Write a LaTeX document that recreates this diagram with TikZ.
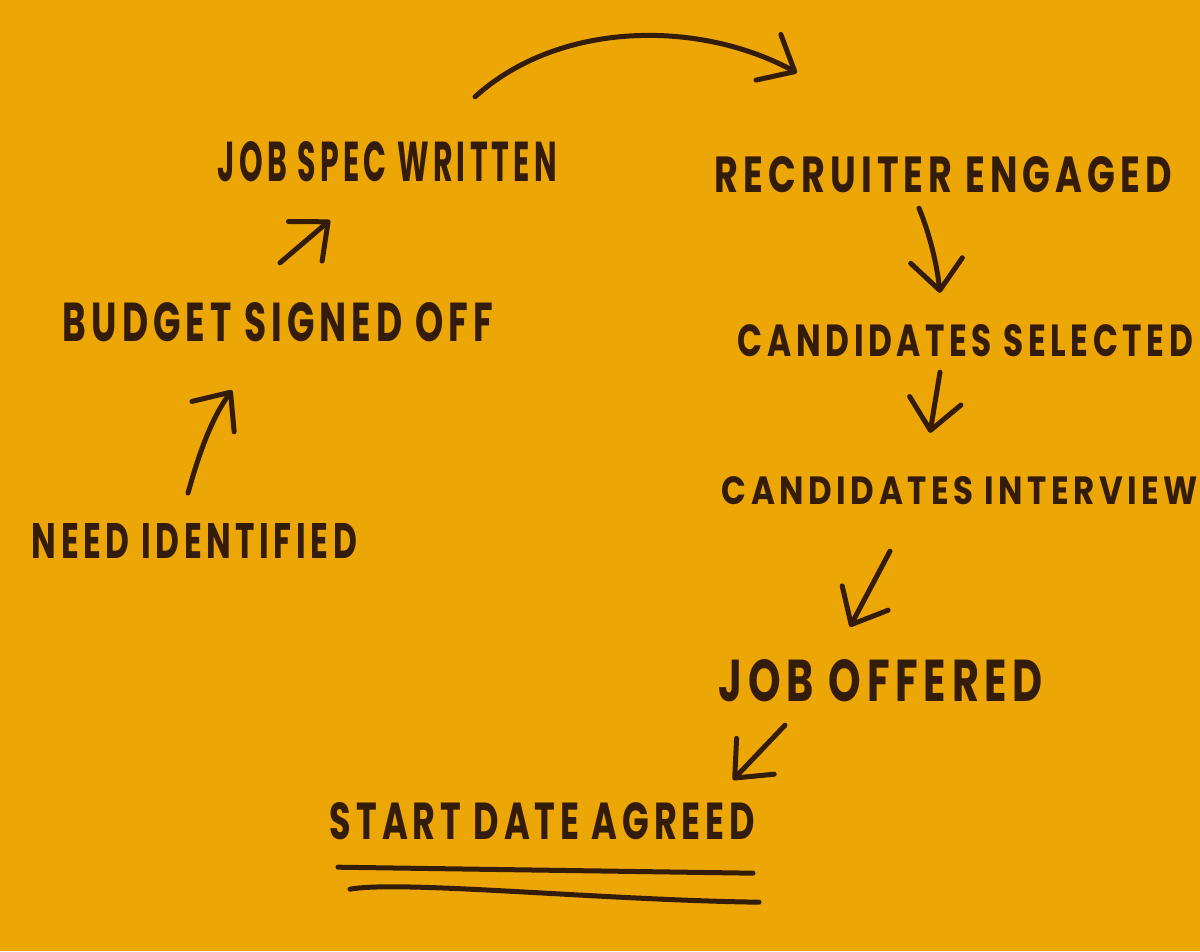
\documentclass[tikz,border=0pt]{standalone}
\usepackage{fontspec}
\setmainfont{Poppins}
\usetikzlibrary{arrows.meta}
\definecolor{paper}{RGB}{236,166,6}
\definecolor{ink}{RGB}{52,28,10}
\newcommand{\fitbox}[3]{\resizebox{#1pt}{#2pt}{\bfseries\addfontfeature{LetterSpace=14}#3}}
\begin{document}
\begin{tikzpicture}[x=1pt,y=-1pt,
 lbl/.style={inner sep=0pt, outer sep=0pt, text=ink},
 conn/.style={draw=ink, line width=5pt, line cap=round, line join=round,
   -{Straight Barb[length=30pt,width=52pt,round]}},
 uline/.style={draw=ink, line width=5pt, line cap=round}]
\fill[paper] (0,0) rectangle (1200,951);
\useasboundingbox (0,0) rectangle (1200,951);
% labels
\node[lbl] (job)   at (387.5,161.5) {\fitbox{339}{40}{JOB SPEC WRITTEN}};
\node[lbl] (rec)   at (943.5,175)   {\fitbox{457}{36}{RECRUITER ENGAGED}};
\node[lbl] (bud)   at (278,322.5)   {\fitbox{430}{39}{BUDGET SIGNED OFF}};
\node[lbl] (sel)   at (965.5,341)   {\fitbox{455}{32}{CANDIDATES SELECTED}};
\node[lbl] (int)   at (960,491)     {\fitbox{476}{28}{CANDIDATES INTERVIEW}};
\node[lbl] (need)  at (194.5,540.5) {\fitbox{325}{35}{NEED IDENTIFIED}};
\node[lbl] (off)   at (881,681)     {\fitbox{324}{42}{JOB OFFERED}};
\node[lbl] (start) at (542.5,821.5) {\fitbox{425}{37}{START DATE AGREED}};
% connectors
\draw[conn] ([shift={(-6.5,-30)}]need.north) .. controls (200,450) and (212,418) .. ([shift={(-46,48)}]bud.south);
\draw[conn] ([shift={(2,-40)}]bud.north) -- ([shift={(-57.5,38.5)}]job.south);
\draw[conn] ([shift={(-82,-44.5)}]job.north east) .. controls (560,20) and (700,20) .. ([shift={(82,-84)}]rec.north west);
\draw[conn] ([shift={(-24.5,15)}]rec.south) .. controls (930,235) and (937,265) .. ([shift={(-25.5,-32)}]sel.north);
\draw[conn] ([shift={(-25.5,15)}]sel.south) -- ([shift={(-30,-44)}]int.north);
\draw[conn] ([shift={(-70,46)}]int.south) -- ([shift={(-31,-33)}]off.north);
\draw[conn] ([shift={(-96,23)}]off.south) -- ([shift={(190.5,-23)}]start.north);
% double underline
\draw[uline] ([shift={(8,27)}]start.south west) -- ([shift={(-2,33)}]start.south east);
\draw[uline] ([shift={(20,49)}]start.south west) .. controls (400,880) and (600,900) .. ([shift={(4,62)}]start.south east);
\end{tikzpicture}
\end{document}
